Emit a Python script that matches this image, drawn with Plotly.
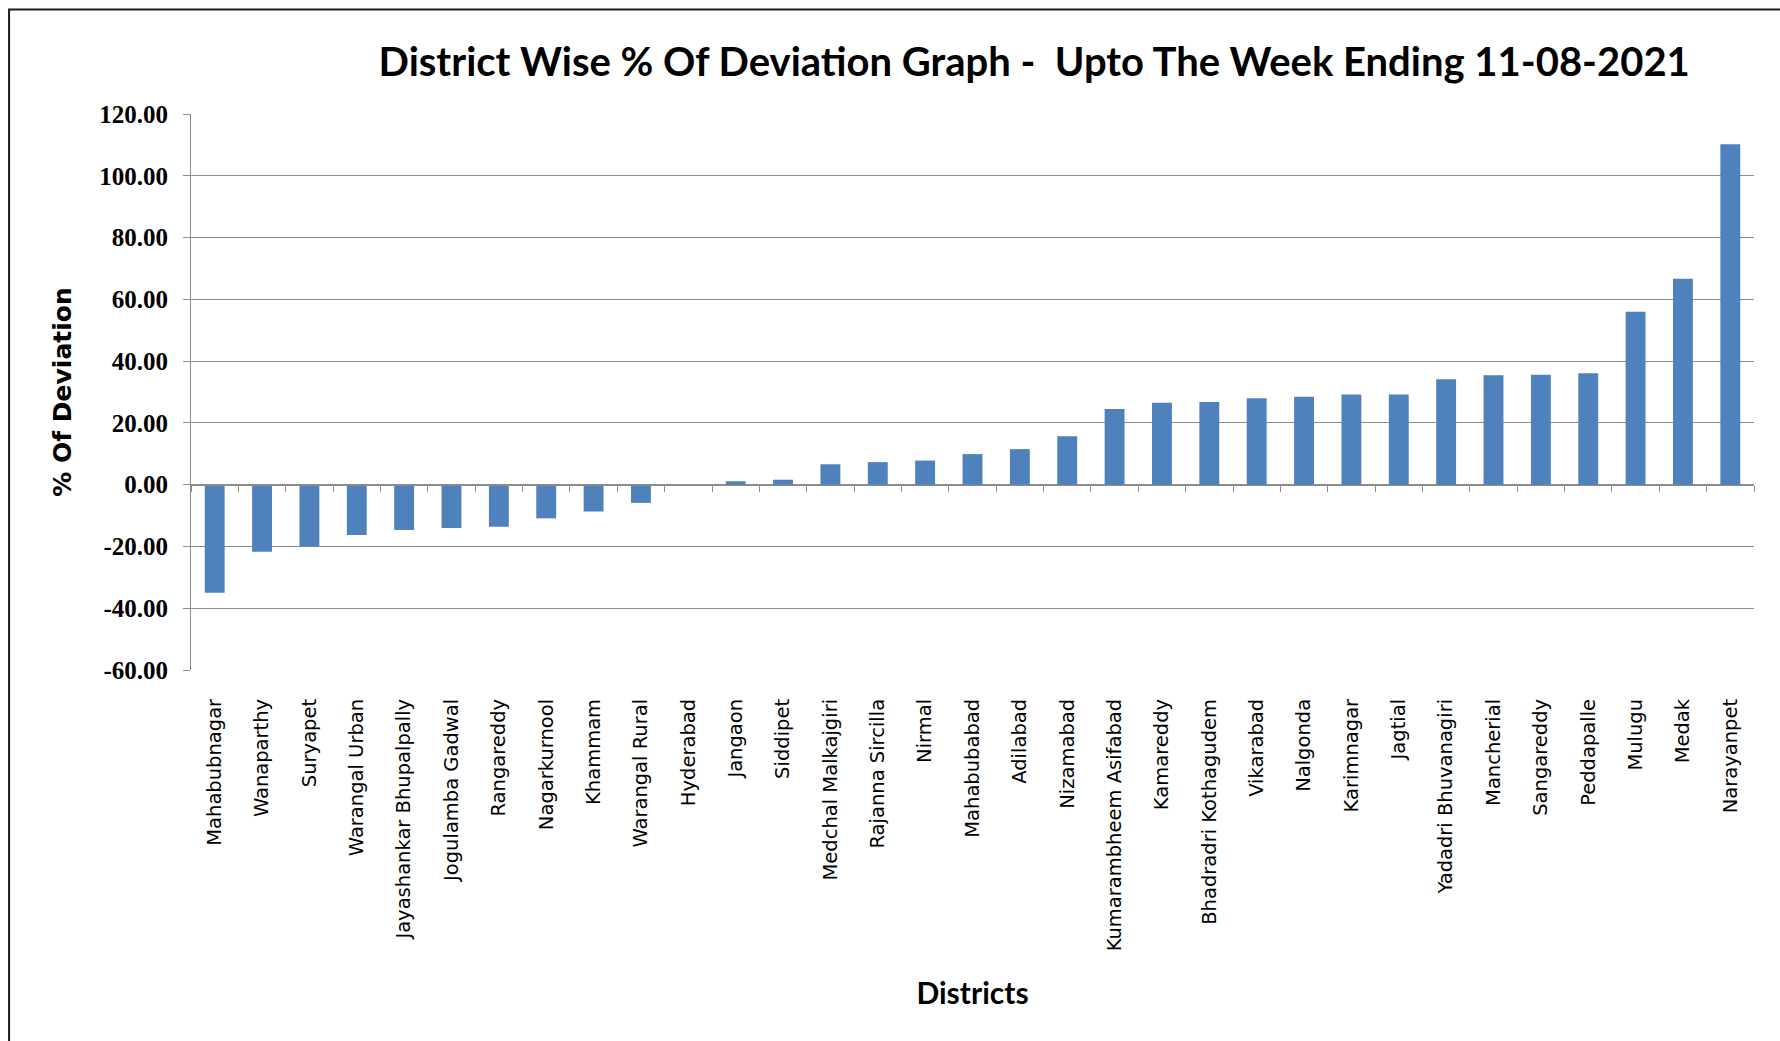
import plotly.graph_objects as go

districts = [
    "Mahabubnagar", "Wanaparthy", "Suryapet", "Warangal Urban", "Jayashankar Bhupalpally",
    "Jogulamba Gadwal", "Rangareddy", "Nagarkurnool", "Khammam", "Warangal Rural",
    "Hyderabad", "Jangaon", "Siddipet", "Medchal Malkajgiri", "Rajanna Sircilla",
    "Nirmal", "Mahabubabad", "Adilabad", "Nizamabad", "Kumarambheem Asifabad",
    "Kamareddy", "Bhadradri Kothagudem", "Vikarabad", "Nalgonda", "Karimnagar",
    "Jagtial", "Yadadri Bhuvanagiri", "Mancherial", "Sangareddy", "Peddapalle",
    "Mulugu", "Medak", "Narayanpet",
]
deviation = [
    -35.0, -21.7, -20.0, -16.3, -14.7,
    -14.0, -13.6, -10.9, -8.7, -5.9,
    0.0, 1.1, 1.6, 6.6, 7.3,
    7.8, 9.9, 11.5, 15.7, 24.5,
    26.5, 26.8, 28.0, 28.5, 29.2,
    29.2, 34.1, 35.4, 35.6, 36.1,
    56.0, 66.7, 110.2,
]
y_tick_values = [-60, -40, -20, 0, 20, 40, 60, 80, 100, 120]
y_tick_labels = ["-60.00", "-40.00", "-20.00", "0.00", "20.00", "40.00",
                 "60.00", "80.00", "100.00", "120.00"]

title_text = "District Wise % Of Deviation Graph -  Upto The Week Ending 11-08-2021"

GRID = "#8c8c8c"
BAR = "#4F81BD"

fig = go.Figure()
fig.add_trace(go.Bar(
    x=districts, y=deviation, xaxis="x", yaxis="y",
    marker=dict(color=BAR, line=dict(width=0)), width=0.42,
    showlegend=False,
))
# invisible companion trace so the zero-line category axis carries the categories
fig.add_trace(go.Scatter(
    x=districts, y=deviation, xaxis="x2", yaxis="y",
    mode="markers", marker=dict(opacity=0, size=1),
    hoverinfo="skip", showlegend=False,
))

n = len(districts)
fig.update_layout(
    width=1780, height=1041,
    paper_bgcolor="white", plot_bgcolor="white",
    margin=dict(l=191, r=26, t=114, b=371),
    showlegend=False,
    bargap=0.58,
    title=dict(
        text=title_text, xref="container", x=0.581, xanchor="center",
        yref="container", y=0.940, yanchor="middle",
        font=dict(family="Lato, 'Open Sans', sans-serif", size=40, color="black", weight="bold"),
    ),
    xaxis=dict(
        type="category", range=[-0.5, n - 0.5], domain=[0, 1], anchor="y",
        tickangle=-90, ticks="", showline=False, showgrid=False, zeroline=False,
        tickfont=dict(family="DejaVu Sans", size=19.5, color="black"),
        ticklabelstandoff=24,
        title=dict(text="Districts", standoff=32,
                   font=dict(family="Lato, sans-serif", size=30, color="black", weight="bold")),
    ),
    xaxis2=dict(
        type="category", range=[-0.5, n - 0.5], overlaying="x", anchor="free",
        position=1 / 3, side="bottom",
        showline=True, linecolor=GRID, linewidth=1,
        ticks="outside", tickson="boundaries", ticklen=6, tickcolor=GRID,
        showticklabels=False, showgrid=False, zeroline=False,
    ),
    yaxis=dict(
        range=[-60, 120], tickvals=y_tick_values, ticktext=y_tick_labels,
        showgrid=True, gridcolor=GRID, gridwidth=1, zeroline=False,
        showline=True, linecolor=GRID, linewidth=1,
        ticks="outside", ticklen=7, tickcolor=GRID,
        tickfont=dict(family="Liberation Serif, 'Times New Roman', serif", size=25, color="black", weight="bold"),
        ticklabelstandoff=10,
        title=dict(text="% Of Deviation", standoff=20,
                   font=dict(family="DejaVu Sans, Verdana, sans-serif", size=25, color="black", weight="bold")),
    ),
    shapes=[dict(
        type="rect", xref="paper", yref="paper",
        x0=-0.1164, x1=1.2, y0=-1.0, y1=1.188,
        line=dict(color="#1a1a1a", width=2), fillcolor="rgba(0,0,0,0)", layer="above",
    )],
)

fig.write_html("out.html")
